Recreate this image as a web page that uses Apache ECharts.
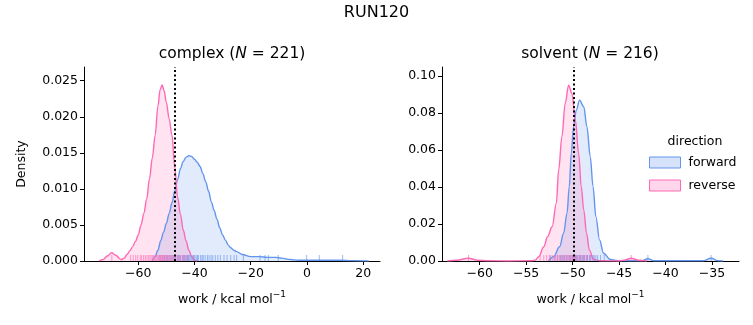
<!DOCTYPE html>
<html>
<head>
<meta charset="utf-8">
<script src="https://cdn.jsdelivr.net/npm/echarts@6/dist/echarts.min.js"></script>
<style>
  html, body { margin: 0; padding: 0; background: #fff; }
  #main { width: 753px; height: 325px; }
</style>
</head>
<body>
<div id="main"></div>
<script>
const blue = '#6495ED'
const pink = '#FF69B4'

// complex, forward KDE
const cfX = [-55, -54, -53, -52, -51, -50, -49, -48, -47, -46, -45, -44, -43, -42, -41, -40, -39, -38, -37, -36, -35, -34, -33, -32, -31, -30, -29, -28, -27, -26, -25, -23, -20, -17, -14, -11, -9, -6, -3, 0, 4, 8, 12, 16, 20, 22]
const cfY = [0, 0.0006, 0.0015, 0.0028, 0.0040, 0.0052, 0.0066, 0.0081, 0.0097, 0.0113, 0.0128, 0.0138, 0.0144, 0.0146, 0.0145, 0.0141, 0.0137, 0.0131, 0.0121, 0.0110, 0.0097, 0.0082, 0.0070, 0.0058, 0.0046, 0.0036, 0.0029, 0.0022, 0.0018, 0.0015, 0.0013, 0.0009, 0.0006, 0.0006, 0.0005, 0.0005, 0.0004, 0.0002, 0.0001, 0.0001, 0.0001, 0.0001, 0.0001, 0.00005, 0.00002, 0]
// complex, reverse KDE
const crX = [-74, -72.5, -71, -69.5, -68, -66.5, -66, -65, -64, -63, -62, -61, -60, -59, -58, -57, -56, -55, -54, -53, -52.2, -51.5, -50.8, -50, -49, -48, -47, -46, -45, -44, -43, -42, -41, -40, -39]
const crY = [0, 0.0002, 0.0007, 0.00115, 0.0008, 0.0003, 0.0002, 0.0004, 0.0009, 0.0014, 0.0020, 0.0027, 0.0036, 0.0050, 0.0066, 0.0086, 0.0114, 0.0143, 0.0174, 0.0215, 0.0238, 0.0244, 0.0236, 0.0220, 0.0197, 0.0174, 0.0130, 0.0088, 0.0065, 0.0043, 0.0028, 0.0015, 0.0006, 0.0001, 0]
// solvent, forward KDE
const sfX = [-52.6, -52.04, -51.4, -50.97, -50.6, -50.36, -50.14, -49.9, -49.6, -49.25, -48.8, -48.46, -48.1, -47.8, -47.5, -47.1, -46.67, -45.95, -45, -42.6, -41.9, -41.2, -36, -35.1, -34.3, -33.8]
const sfY = [0, 0.0023, 0.0077, 0.015, 0.0258, 0.0402, 0.0582, 0.0726, 0.0816, 0.087, 0.0834, 0.0726, 0.0564, 0.0402, 0.024, 0.0114, 0.0042, 0.0008, 0.0002, 0.0001, 0.0012, 0.0001, 0.0001, 0.0015, 0.0001, 0]
// solvent, reverse KDE
const srX = [-63.5, -62.5, -61.2, -60.2, -59, -57, -54.5, -54.0, -53.65, -53.1, -52.7, -52.2, -51.75, -51.5, -51.15, -50.8, -50.43, -50.07, -49.7, -49.35, -49.07, -48.8, -48.5, -48.2, -47.75, -47, -45, -44.5, -43.7, -42.9, -42]
const srY = [0, 0.0004, 0.0015, 0.0004, 0.0001, 0, 0.0001, 0.0005, 0.0023, 0.0077, 0.0131, 0.0185, 0.0313, 0.0492, 0.0672, 0.0852, 0.0951, 0.0906, 0.0762, 0.0582, 0.0402, 0.0276, 0.015, 0.006, 0.0008, 0.0001, 0, 0.0004, 0.0015, 0.0004, 0]

// rug samples
const cfRug = [-52.3, -51.2, -50.6, -49.9, -49.5, -48.7, -48.3, -47.6, -47.2, -46.8, -46.1, -45.8, -45.3, -44.9, -44.2, -43.8, -43.6, -42.9, -42.5, -42.1, -41.7, -41.2, -40.8, -40.3, -39.9, -39.4, -38.9, -38.6, -37.8, -37.3, -36.9, -36.2, -35.4, -34.8, -34.1, -33.5, -32.6, -31.7, -30.8, -29.5, -28.4, -27.1, -25.9, -25.0, -22.6, -16.7, -14.9, -13.7, -10.2, -0.1, 4.4, 12.7]
const crRug = [-69.4, -62.7, -61.8, -60.9, -60.2, -59.3, -58.8, -58.1, -57.5, -56.9, -56.3, -55.8, -55.4, -54.9, -54.5, -54.1, -53.7, -53.3, -52.9, -52.6, -52.2, -51.9, -51.6, -51.3, -50.9, -50.5, -50.1, -49.7, -49.2, -48.8, -48.3, -47.9, -47.3, -46.8, -46.2, -45.6, -44.9, -44.1, -43.2, -42.4, -40.3]
const sfRug = [-52.4, -51.9, -51.6, -51.3, -51.1, -50.9, -50.7, -50.5, -50.3, -50.2, -50.0, -49.9, -49.7, -49.6, -49.5, -49.3, -49.2, -49.1, -48.9, -48.8, -48.7, -48.5, -48.4, -48.2, -48.1, -47.9, -47.7, -47.5, -47.3, -47.0, -46.6, -41.9, -35.1]
const srRug = [-61.2, -53.5, -53.1, -52.8, -52.5, -52.2, -52.0, -51.8, -51.6, -51.4, -51.2, -51.0, -50.9, -50.7, -50.6, -50.4, -50.3, -50.1, -50.0, -49.8, -49.7, -49.5, -49.3, -49.1, -48.9, -48.7, -48.4, -48.1, -47.7, -43.7]

const meanLines = [-46.9, -49.9]

const complexXTicks = [-60, -40, -20, 0, 20]
const complexYTicks = [0, 0.005, 0.010, 0.015, 0.020, 0.025]
const solventXTicks = [-60, -55, -50, -45, -40, -35]
const solventYTicks = [0, 0.02, 0.04, 0.06, 0.08, 0.10]

const zip = (xs, ys) => xs.map((x, i) => [x, ys[i]])
const rugData = arr => arr.map(v => [v, 0])
const minus = v => String(v).replace('-', '\u2212')

const font = 'DejaVu Sans'

const makeX = (idx, min, max, ticks) => ({
  type: 'value',
  gridIndex: idx,
  min: min,
  max: max,
  name: '{a|work / kcal mol}{s|\u22121}',
  nameLocation: 'middle',
  nameGap: 29,
  nameTextStyle: {
    rich: {
      a: { fontFamily: font, fontSize: 12.5, color: '#000', verticalAlign: 'bottom', lineHeight: 16 },
      s: { fontFamily: font, fontSize: 9, color: '#000', verticalAlign: 'top', lineHeight: 16, padding: [0, 0, 6, 0] }
    }
  },
  axisLine: { onZero: false, lineStyle: { color: '#000', width: 1 } },
  axisTick: { length: 4, lineStyle: { color: '#000' }, customValues: ticks },
  axisLabel: {
    customValues: ticks,
    formatter: minus,
    fontFamily: font,
    fontSize: 12.5,
    color: '#000',
    margin: 6
  },
  splitLine: { show: false }
})

const makeY = (idx, max, ticks, digits, name) => ({
  type: 'value',
  gridIndex: idx,
  min: 0,
  max: max,
  name: name,
  nameLocation: 'middle',
  nameGap: 56,
  nameTextStyle: { fontFamily: font, fontSize: 12.5, color: '#000' },
  axisLine: { show: true, onZero: false, lineStyle: { color: '#000', width: 1 } },
  axisTick: { show: true, length: 4, lineStyle: { color: '#000' }, customValues: ticks },
  axisLabel: {
    customValues: ticks,
    formatter: v => v.toFixed(digits),
    fontFamily: font,
    fontSize: 12.5,
    color: '#000',
    margin: 6
  },
  splitLine: { show: false }
})

const kde = (name, idx, xs, ys, color, fill) => ({
  name: name,
  type: 'line',
  xAxisIndex: idx,
  yAxisIndex: idx,
  data: zip(xs, ys),
  smooth: 0.35,
  smoothMonotone: 'x',
  showSymbol: false,
  lineStyle: { color: color, width: 1.4 },
  itemStyle: { color: color },
  areaStyle: { color: fill, origin: 'start' },
  z: 2
})

const rug = (name, idx, arr, color) => ({
  name: name,
  type: 'scatter',
  xAxisIndex: idx,
  yAxisIndex: idx,
  data: rugData(arr),
  symbol: 'rect',
  symbolSize: [1, 6],
  symbolOffset: [0, -3],
  itemStyle: { color: color, opacity: 0.65 },
  silent: true,
  z: 3
})

const meanLine = (idx, v) => ({
  type: 'line',
  xAxisIndex: idx,
  yAxisIndex: idx,
  data: [],
  markLine: {
    silent: true,
    symbol: 'none',
    label: { show: false },
    lineStyle: { color: '#000', type: [2, 2.5], width: 2 },
    data: [{ xAxis: v }]
  },
  z: 5
})

const blueFill = 'rgba(100,149,237,0.27)'
const pinkFill = 'rgba(255,105,180,0.27)'

const option = {
  animation: false,
  backgroundColor: '#fff',
  grid: [
    { left: 84, top: 67, width: 296, height: 194 },
    { left: 442, top: 67, width: 297, height: 194 }
  ],
  xAxis: [
    makeX(0, -79.3, 26, complexXTicks),
    makeX(1, -64.05, -32.1, solventXTicks)
  ],
  yAxis: [
    makeY(0, 0.0269, complexYTicks, 3, 'Density'),
    makeY(1, 0.1049, solventYTicks, 2, '')
  ],
  legend: {
    orient: 'vertical',
    left: 649,
    top: 156,
    padding: 0,
    icon: 'rect',
    itemWidth: 31,
    itemHeight: 11,
    itemGap: 10,
    textStyle: { fontFamily: font, fontSize: 12.5, color: '#000', padding: [0, 0, 0, 3] },
    data: [
      { name: 'forward', itemStyle: { color: blueFill, borderColor: blue, borderWidth: 1 } },
      { name: 'reverse', itemStyle: { color: pinkFill, borderColor: pink, borderWidth: 1 } }
    ]
  },
  graphic: [
    { type: 'text', left: 'center', top: 5, style: { text: 'RUN120', fontFamily: font, fontSize: 16, fill: '#000' } },
    {
      type: 'text', x: 232, y: 54,
      style: {
        text: '{a|complex (}{i|N}{a| = 221)}', align: 'center', verticalAlign: 'middle',
        rich: { a: { fontFamily: font, fontSize: 15.5, fill: '#000' }, i: { fontFamily: font, fontSize: 15.5, fontStyle: 'italic', fill: '#000' } }
      }
    },
    {
      type: 'text', x: 590, y: 54,
      style: {
        text: '{a|solvent (}{i|N}{a| = 216)}', align: 'center', verticalAlign: 'middle',
        rich: { a: { fontFamily: font, fontSize: 15.5, fill: '#000' }, i: { fontFamily: font, fontSize: 15.5, fontStyle: 'italic', fill: '#000' } }
      }
    },
    { type: 'text', x: 695, y: 142, style: { text: 'direction', align: 'center', verticalAlign: 'middle', fontFamily: font, fontSize: 12.5, fill: '#000' } }
  ],
  series: [
    kde('forward', 0, cfX, cfY, blue, blueFill),
    kde('reverse', 0, crX, crY, pink, pinkFill),
    kde('forward', 1, sfX, sfY, blue, blueFill),
    kde('reverse', 1, srX, srY, pink, pinkFill),
    rug('forward', 0, cfRug, blue),
    rug('reverse', 0, crRug, pink),
    rug('forward', 1, sfRug, blue),
    rug('reverse', 1, srRug, pink),
    meanLine(0, meanLines[0]),
    meanLine(1, meanLines[1])
  ]
}

const myChart = echarts.init(document.getElementById('main'))
myChart.setOption(option)
</script>
</body>
</html>
